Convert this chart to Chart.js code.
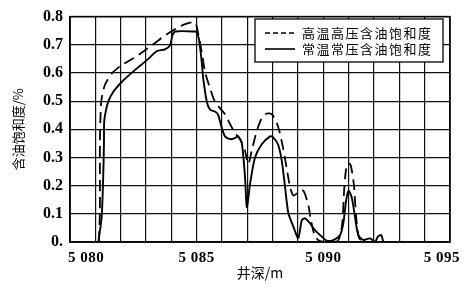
<!DOCTYPE html>
<html><head><meta charset="utf-8">
<script src="https://cdn.jsdelivr.net/npm/chart.js@4/dist/chart.umd.min.js"></script>
<style>html,body{margin:0;padding:0;background:#fff;}#wrap{width:466px;height:289px;}</style>
</head><body><div id="wrap"><canvas id="c" width="466" height="289"></canvas></div>
<script>
const xTickLabels = ['5 080','5 085','5 090','5 095'];
const xTickValues = [5080, 5085, 5090, 5095];
const seriesNames = ['高温高压含油饱和度','常温常压含油饱和度'];
const xTitle = '井深/m';
const yTitle = '含油饱和度/%';

const hotDepth = [5081.14,5081.18,5081.18,5081.21,5081.25,5081.38,5081.65,5082.04,5082.57,5083.23,5083.75,5084.26,5084.54,5084.93,5085.05,5085.2,5085.33,5085.53,5085.72,5085.92,5086.12,5086.32,5086.51,5086.71,5086.91,5087.04,5087.17,5087.37,5087.57,5087.77,5087.97,5088.21,5088.41,5088.55,5088.69,5088.82,5089.01,5089.21,5089.41,5089.51,5089.67,5089.87,5090.26,5090.58,5090.74,5090.82,5090.9,5091.0,5091.09,5091.21,5091.29,5091.41,5091.65];
const hotValue = [0,0.112,0.347,0.463,0.51,0.558,0.598,0.628,0.656,0.698,0.733,0.761,0.773,0.779,0.744,0.674,0.604,0.545,0.498,0.475,0.453,0.418,0.387,0.365,0.323,0.277,0.323,0.393,0.44,0.456,0.453,0.411,0.334,0.264,0.194,0.165,0.176,0.182,0.13,0.077,0.021,0.003,0,0.004,0.06,0.182,0.26,0.28,0.27,0.2,0.095,0.014,0];

const roomDepth = [5081.12,5081.25,5081.31,5081.34,5081.35,5081.41,5081.51,5081.71,5082.04,5082.57,5083.08,5083.42,5083.75,5083.95,5084.04,5084.15,5084.93,5085.0,5085.09,5085.2,5085.26,5085.4,5085.53,5085.72,5085.84,5085.99,5086.12,5086.32,5086.51,5086.63,5086.78,5086.91,5086.98,5087.11,5087.3,5087.57,5087.9,5088.01,5088.21,5088.36,5088.49,5088.62,5088.82,5089.01,5089.15,5089.28,5089.47,5089.67,5089.94,5090.13,5090.39,5090.66,5090.79,5090.9,5090.99,5091.12,5091.25,5091.38,5091.58,5091.84,5092.04,5092.16,5092.28,5092.36];
const roomValue = [0,0.089,0.229,0.347,0.428,0.463,0.498,0.533,0.568,0.611,0.649,0.677,0.684,0.698,0.733,0.747,0.747,0.744,0.72,0.639,0.58,0.498,0.47,0.463,0.453,0.405,0.375,0.365,0.369,0.375,0.352,0.229,0.124,0.207,0.299,0.347,0.375,0.372,0.347,0.288,0.194,0.102,0.054,0.014,0.077,0.084,0.067,0.042,0.019,0.005,0.007,0.025,0.067,0.147,0.182,0.159,0.089,0.025,0.007,0.013,0.001,0.02,0.025,0.003];

const toPts = (xs, ys) => xs.map((x, i) => ({x: x, y: ys[i]}));

const serif = '"Liberation Serif", "DejaVu Serif", serif';
const cjk = '"Noto Sans CJK SC", "Noto Sans", sans-serif';

const extras = {
  id: 'extras',
  afterDraw(chart) {
    const ctx = chart.ctx, a = chart.chartArea, xs = chart.scales.x;
    ctx.save();
    ctx.strokeStyle = '#000'; ctx.lineWidth = 1.5; ctx.setLineDash([]);
    ctx.strokeRect(a.left, a.top, a.right - a.left, a.bottom - a.top);
    ctx.fillStyle = '#000';
    ctx.font = 'bold 15px ' + serif;
    ctx.textBaseline = 'middle';
    try { ctx.letterSpacing = '0.5px'; } catch (e) {}
    xTickValues.forEach((v, i) => {
      const t = xTickLabels[i];
      const w = ctx.measureText(t).width;
      let cx = xs.getPixelForValue(v);
      cx = Math.max(a.left - 2 + w / 2, Math.min(a.right + 10 - w / 2, cx));
      ctx.textAlign = 'center';
      ctx.fillText(t, cx, a.bottom + 16);
    });
    try { ctx.letterSpacing = '0px'; } catch (e) {}
    ctx.font = '14px ' + cjk;
    ctx.textAlign = 'center';
    ctx.fillText(xTitle, (a.left + a.right) / 2, a.bottom + 31);
    ctx.save();
    ctx.translate(18, (a.top + a.bottom) / 2);
    ctx.rotate(-Math.PI / 2);
    ctx.font = '13px ' + cjk;
    ctx.fillText(yTitle, 0, 0);
    ctx.restore();
    const lx = 255, ly = 19, lw = 188, lh = 43;
    ctx.fillStyle = '#fff';
    ctx.fillRect(lx, ly, lw, lh);
    ctx.strokeStyle = '#000'; ctx.lineWidth = 1.3;
    ctx.strokeRect(lx, ly, lw, lh);
    const rows = [{y: ly + 14, dash: [5, 3]}, {y: ly + 30, dash: []}];
    ctx.font = '13px ' + cjk;
    ctx.textAlign = 'left';
    try { ctx.letterSpacing = '1.5px'; } catch (e) {}
    rows.forEach((r, i) => {
      ctx.setLineDash(r.dash); ctx.lineWidth = 1.6;
      ctx.beginPath(); ctx.moveTo(lx + 10, r.y); ctx.lineTo(lx + 40, r.y); ctx.stroke();
      ctx.fillStyle = '#000';
      ctx.fillText(seriesNames[i], lx + 47, r.y);
    });
    ctx.restore();
  }
};

new Chart(document.getElementById('c'), {
  type: 'line',
  data: {
    datasets: [
      {label: seriesNames[0], data: toPts(hotDepth, hotValue), borderColor: '#000', borderWidth: 1.8, borderDash: [11, 6], pointRadius: 0, tension: 0.25, fill: false},
      {label: seriesNames[1], data: toPts(roomDepth, roomValue), borderColor: '#000', borderWidth: 1.9, pointRadius: 0, tension: 0.25, fill: false}
    ]
  },
  options: {
    responsive: false, animation: false, devicePixelRatio: 1,
    layout: {padding: {top: 13, right: 16, left: 0, bottom: 0}},
    plugins: {legend: {display: false}, tooltip: {enabled: false}},
    scales: {
      x: {
        type: 'linear', min: 5080, max: 5095,
        ticks: {stepSize: 1, display: false},
        grid: {color: '#111', lineWidth: 1.2, drawTicks: false},
        border: {display: true, color: '#000', width: 1.5},
        afterFit(s) { s.height = 47; }
      },
      y: {
        min: 0, max: 0.8,
        ticks: {stepSize: 0.1, color: '#000', padding: 7, font: {family: serif, size: 16, weight: 'bold'},
          callback: v => (Math.abs(v) < 1e-9 ? '0.' : Number(v).toFixed(1))},
        grid: {color: '#111', lineWidth: 1.2, drawTicks: false},
        border: {display: true, color: '#000', width: 1.5},
        afterFit(s) { s.width = 70; }
      }
    }
  },
  plugins: [extras]
});
</script></body></html>
